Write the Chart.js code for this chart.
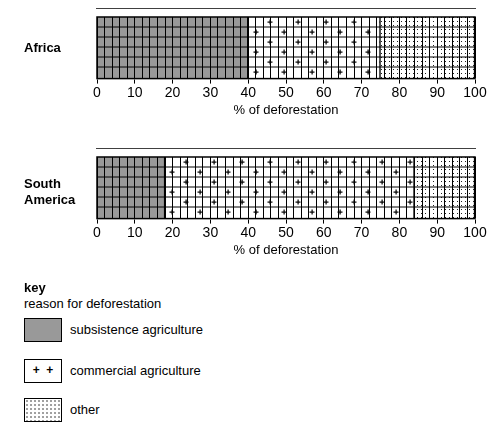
<!DOCTYPE html>
<html><head><meta charset="utf-8">
<script src="https://cdn.jsdelivr.net/npm/chart.js"></script>
<style>
body{margin:0;width:503px;height:436px;background:#fff;font-family:"Liberation Sans",Arial,sans-serif;position:relative;overflow:hidden}
.box{position:absolute;left:0;width:503px;height:110px}
.lab{position:absolute;font-weight:bold;font-size:13px;left:24px}
.key{position:absolute;left:24px;font-size:13px}
.sw{position:absolute;left:24px;width:38px;height:24px;border:1px solid #000;box-sizing:border-box}
.kt{position:absolute;left:70px;font-size:13px}
</style></head><body>
<div class="box" style="top:8px"><canvas id="c1"></canvas></div>
<div class="box" style="top:148px"><canvas id="c2"></canvas></div>
<div class="lab" style="top:40px">Africa</div>
<div class="lab" style="top:176px;line-height:16px">South<br>America</div>
<div class="key" style="top:280px;font-weight:bold">key</div>
<div class="key" style="top:296px">reason for deforestation</div>
<div class="sw" id="k1" style="top:318px"></div><div class="kt" style="top:322px">subsistence agriculture</div>
<div class="sw" id="k2" style="top:359px"></div><div class="kt" style="top:363px">commercial agriculture</div>
<div class="sw" id="k3" style="top:398px"></div><div class="kt" style="top:402px">other</div>
<script>
var reasons = ['subsistence agriculture', 'commercial agriculture', 'other'];
var africa = [40, 35, 25];
var southAmerica = [18, 66, 16];
var xTicks = [0, 10, 20, 30, 40, 50, 60, 70, 80, 90, 100];

function makePattern(kind) {
	var p = document.createElement('canvas');
	var ctx = p.getContext('2d');
	if (kind == 0) {
		p.width = 4; p.height = 4;
		ctx.fillStyle = '#999'; ctx.fillRect(0, 0, 4, 4);
	} else if (kind == 1) {
		p.width = 28; p.height = 20;
		ctx.fillStyle = '#fff'; ctx.fillRect(0, 0, 28, 20);
		ctx.fillStyle = '#000';
		[[4, 4], [18, 14]].forEach(function (c) {
			ctx.fillRect(c[0] - 2.5, c[1] - 0.5, 5, 1.2);
			ctx.fillRect(c[0] - 0.5, c[1] - 2.5, 1.2, 5);
		});
	} else {
		p.width = 4; p.height = 4;
		ctx.fillStyle = '#fff'; ctx.fillRect(0, 0, 4, 4);
		ctx.fillStyle = '#222'; ctx.fillRect(1, 1, 1, 1);
	}
	return document.createElement('canvas').getContext('2d').createPattern(p, 'repeat');
}
var fills = [makePattern(0), makePattern(1), makePattern(2)];

// horizontal lines across the bar + outline
var hLines = {
	id: 'hLines',
	afterDatasetsDraw: function (chart) {
		var a = chart.chartArea, ctx = chart.ctx;
		var bar = chart.getDatasetMeta(0).data[0];
		var top = bar.y - bar.height / 2, bottom = bar.y + bar.height / 2;
		ctx.save();
		ctx.strokeStyle = '#000'; ctx.lineWidth = 1;
		for (var y = top + 10; y < bottom - 2; y += 10) {
			ctx.beginPath(); ctx.moveTo(a.left, y); ctx.lineTo(a.right, y); ctx.stroke();
		}
		ctx.lineWidth = 1.5;
		ctx.strokeRect(a.left, top, a.right - a.left, bottom - top);
		ctx.restore();
	}
};

function drawChart(id, values) {
	new Chart(document.getElementById(id), {
		type: 'bar',
		data: {
			labels: [''],
			datasets: reasons.map(function (r, i) {
				return { label: r, data: [values[i]], backgroundColor: fills[i],
					borderColor: '#000', borderWidth: { left: 1.5, right: 1.5 },
					barPercentage: 1, categoryPercentage: 1 };
			})
		},
		options: {
			indexAxis: 'y', responsive: false, animation: false,
			layout: { padding: { left: 97, right: 28, top: 9 } },
			plugins: { legend: { display: false }, tooltip: { enabled: false } },
			scales: {
				y: { stacked: true, display: false },
				x: {
					stacked: true, min: 0, max: 100,
					grid: { color: '#000', lineWidth: 1, z: 1, drawTicks: true, tickLength: 5,
						tickColor: function (c) { return c.tick.value % 10 == 0 ? '#000' : 'rgba(0,0,0,0)'; } },
					border: { color: '#000', width: 1.5 },
					ticks: { stepSize: 2, autoSkip: false, maxRotation: 0, color: '#000', padding: 1,
						font: { family: 'Liberation Sans', size: 14 },
						callback: function (v) { return xTicks.indexOf(v) >= 0 ? v : ''; } },
					title: { display: true, text: '% of deforestation', color: '#000', padding: 0,
						font: { family: 'Liberation Sans', size: 13 } }
				}
			}
		},
		plugins: [hLines]
	});
}
document.getElementById('c1').width = 503; document.getElementById('c1').height = 110;
document.getElementById('c2').width = 503; document.getElementById('c2').height = 110;
drawChart('c1', africa);
drawChart('c2', southAmerica);

document.getElementById('k1').style.background = '#999';
document.getElementById('k2').innerHTML = '<div style="text-align:center;font-size:12px;line-height:20px;font-weight:bold">+&nbsp;&nbsp;+</div>';
document.getElementById('k3').style.background = 'radial-gradient(#333 0.6px, transparent 0.8px) 0 0/4px 4px';
</script>
</body></html>
